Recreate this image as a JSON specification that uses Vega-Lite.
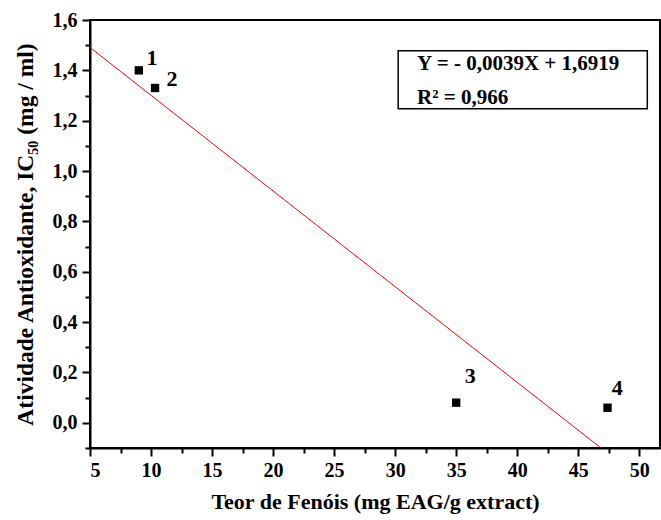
{
  "$schema": "https://vega.github.io/schema/vega-lite/v6.json",
  "width": 570,
  "height": 428,
  "autosize": {"type": "none"},
  "padding": {"left": 90, "top": 20, "right": 1, "bottom": 72},
  "background": "white",
  "config": {
    "view": {"stroke": "black", "strokeWidth": 2},
    "font": "Liberation Serif",
    "axis": {
      "domainColor": "black",
      "domainWidth": 2,
      "tickColor": "black",
      "tickWidth": 2,
      "labelFont": "Liberation Serif",
      "labelFontWeight": "bold",
      "labelFontSize": 20,
      "labelColor": "black",
      "titleFont": "Liberation Serif",
      "titleFontWeight": "bold",
      "titleFontSize": 22,
      "titleColor": "black",
      "grid": false
    }
  },
  "datasets": {
    "points": [
      {"x": 9.0, "y": 1.40},
      {"x": 10.33, "y": 1.33},
      {"x": 35.0, "y": 0.08},
      {"x": 47.4, "y": 0.06}
    ],
    "labels": [
      {"x": 10.08, "y": 1.45, "t": "1"},
      {"x": 11.72, "y": 1.367, "t": "2"},
      {"x": 36.15, "y": 0.187, "t": "3"},
      {"x": 48.2, "y": 0.14, "t": "4"}
    ],
    "fit": [
      {"x": 5.0, "y": 1.491},
      {"x": 46.86, "y": -0.1}
    ],
    "box": [
      {"x": 30.25, "x2": 50.66, "y": 1.478, "y2": 1.247}
    ],
    "eq": [
      {"x": 31.8, "y": 1.425, "t": "Y = - 0,0039X + 1,6919"},
      {"x": 31.8, "y": 1.29, "t": "R² = 0,966"}
    ]
  },
  "encoding": {
    "x": {
      "field": "x",
      "type": "quantitative",
      "scale": {"domain": [5, 51.7], "nice": false, "zero": false},
      "axis": {
        "title": "Teor de Fenóis (mg EAG/g extract)",
        "values": [5, 7.5, 10, 12.5, 15, 17.5, 20, 22.5, 25, 27.5, 30, 32.5, 35, 37.5, 40, 42.5, 45, 47.5, 50],
        "labelExpr": "datum.value % 5 === 0 ? format(datum.value, 'd') : ''",
        "tickSize": {"condition": {"test": "datum.value % 5 === 0", "value": 8}, "value": 5},
        "labelPadding": 4,
        "titlePadding": 11
      }
    },
    "y": {
      "field": "y",
      "type": "quantitative",
      "scale": {"domain": [-0.1, 1.6], "nice": false, "zero": false},
      "axis": {
        "title": "Atividade Antioxidante, IC₅₀ (mg / ml)",
        "titleFontSize": 23.5,
        "values": [-0.1, 0, 0.1, 0.2, 0.3, 0.4, 0.5, 0.6, 0.7, 0.8, 0.9, 1.0, 1.1, 1.2, 1.3, 1.4, 1.5, 1.6],
        "labelExpr": "abs(round(datum.value*10)) % 2 === 0 ? replace(format(datum.value, '.1f'), '.', ',') : ''",
        "tickSize": {"condition": {"test": "abs(round(datum.value*10)) % 2 === 0", "value": 8}, "value": 5},
        "labelPadding": 5,
        "titlePadding": 15
      }
    }
  },
  "layer": [
    {
      "data": {"name": "box"},
      "mark": {"type": "rect", "fill": null, "fillOpacity": 0, "stroke": "black", "strokeWidth": 1.5},
      "encoding": {"x2": {"field": "x2"}, "y2": {"field": "y2"}}
    },
    {
      "data": {"name": "fit"},
      "mark": {"type": "line", "color": "red", "strokeWidth": 1, "clip": true},
      "encoding": {}
    },
    {
      "data": {"name": "points"},
      "mark": {"type": "square", "color": "black", "filled": true, "size": 70, "opacity": 1},
      "encoding": {}
    },
    {
      "data": {"name": "labels"},
      "mark": {"type": "text", "font": "Liberation Serif", "fontWeight": "bold", "fontSize": 22, "color": "black", "align": "center", "baseline": "middle"},
      "encoding": {"text": {"field": "t"}}
    },
    {
      "data": {"name": "eq"},
      "mark": {"type": "text", "font": "Liberation Serif", "fontWeight": "bold", "fontSize": 21, "color": "black", "align": "left", "baseline": "middle"},
      "encoding": {"text": {"field": "t"}}
    }
  ]
}
